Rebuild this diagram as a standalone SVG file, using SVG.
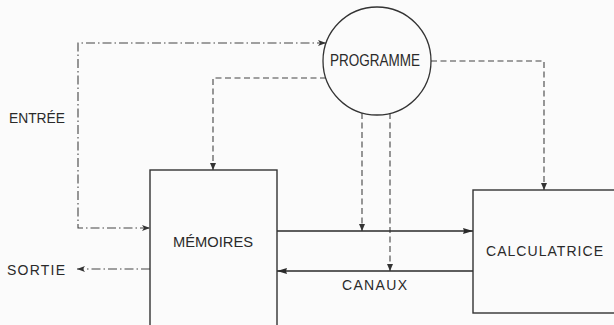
<svg xmlns="http://www.w3.org/2000/svg" width="614" height="325" viewBox="0 0 614 325">
<defs>
<style>
.box{fill:none;stroke:#333;stroke-width:1.4}
.lbl{font-family:"Liberation Sans","DejaVu Sans",sans-serif;font-size:14px;fill:#2a2a2a}
.dd{fill:none;stroke:#444;stroke-width:1.1;stroke-dasharray:9 3 1.5 3}
.da{fill:none;stroke:#444;stroke-width:1.1;stroke-dasharray:6 3.5}
.so{fill:none;stroke:#2a2a2a;stroke-width:1.6}
</style>
<marker id="ah" viewBox="0 0 8 6" refX="8" refY="3" markerWidth="8" markerHeight="6" markerUnits="userSpaceOnUse" orient="auto-start-reverse">
<path d="M0,0 L8,3 L0,6 L2,3 z" fill="#333"/>
</marker>
<marker id="at" viewBox="0 0 7 6" refX="7" refY="3" markerWidth="7" markerHeight="6" markerUnits="userSpaceOnUse" orient="auto">
<path d="M0,0 L7,3 L0,6 z" fill="#333"/>
</marker>
<marker id="as" viewBox="0 0 10 6" refX="10" refY="3" markerWidth="10" markerHeight="6" markerUnits="userSpaceOnUse" orient="auto">
<path d="M0,0 L10,3 L0,6 L1,3 z" fill="#2a2a2a"/>
</marker>
</defs>
<rect width="614" height="325" fill="#fbfbfb"/>
<g id="connectors">
<path class="dd" d="M326,43 L78,43 L78,228 L150,228" marker-start="url(#ah)" marker-end="url(#ah)"/>
<path class="dd" d="M150,269 L77,269" marker-end="url(#ah)"/>
<path class="da" d="M326,78 L213,78 L213,170" marker-end="url(#at)"/>
<path class="da" d="M431,61 L544,61 L544,190" marker-end="url(#at)"/>
<path class="da" d="M362,113 L362,231" marker-end="url(#at)"/>
<path class="da" d="M390,113 L390,271" marker-end="url(#at)"/>
<path class="so" d="M277,231 L473,231" marker-end="url(#as)"/>
<path class="so" d="M473,271 L277,271" marker-end="url(#as)"/>
</g>
<g id="programme">
<circle cx="377" cy="61" r="54" fill="none" stroke="#333" stroke-width="1.3"/>
<text class="lbl" x="330" y="66" textLength="90" lengthAdjust="spacingAndGlyphs" style="font-size:16px">PROGRAMME</text>
</g>
<g id="memoires">
<rect class="box" x="150" y="170" width="127" height="170"/>
<text class="lbl" x="173" y="247" textLength="80" lengthAdjust="spacingAndGlyphs">MÉMOIRES</text>
</g>
<g id="calculatrice">
<rect class="box" x="473" y="190" width="160" height="123"/>
<text class="lbl" x="486" y="256" textLength="117" lengthAdjust="spacing">CALCULATRICE</text>
</g>
<g id="entree">
<text class="lbl" x="9" y="123" textLength="56" lengthAdjust="spacingAndGlyphs">ENTRÉE</text>
</g>
<g id="sortie">
<text class="lbl" x="7" y="275" textLength="58" lengthAdjust="spacing">SORTIE</text>
</g>
<g id="canaux">
<text class="lbl" x="342" y="290" textLength="65" lengthAdjust="spacing">CANAUX</text>
</g>
</svg>
